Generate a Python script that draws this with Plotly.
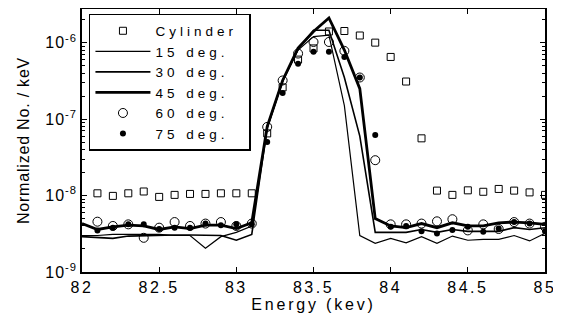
import plotly.graph_objects as go

# ---------------- data ----------------
energy_lines = [82.0, 82.1, 82.2, 82.3, 82.4, 82.5, 82.6, 82.7, 82.8, 82.9,
                83.0, 83.1, 83.2, 83.3, 83.4, 83.5, 83.6, 83.7, 83.8, 83.9,
                84.0, 84.1, 84.2, 84.3, 84.4, 84.5, 84.6, 84.7, 84.8, 84.9, 85.0]
energy_marks = energy_lines[1:]

deg15 = [3.0e-9, 3.0e-9, 3.1e-9, 3.1e-9, 3.1e-9, 3.1e-9, 3.0e-9, 3.0e-9, 2.05e-9, 2.9e-9,
         3.3e-9, 4.0e-9, 7.5e-8, 3.1e-7, 8.0e-7, 1.2e-6, 1.25e-6, 1.5e-7, 3.0e-9, 2.37e-9,
         2.75e-9, 2.4e-9, 2.9e-9, 2.37e-9, 2.95e-9, 2.6e-9, 2.67e-9, 2.67e-9, 3.0e-9, 2.55e-9, 3.2e-9]
deg30 = [2.9e-9, 2.85e-9, 2.75e-9, 2.95e-9, 3.0e-9, 3.0e-9, 3.05e-9, 3.05e-9, 3.0e-9, 3.0e-9,
         2.6e-9, 3.1e-9, 7.8e-8, 3.2e-7, 8.2e-7, 1.45e-6, 1.45e-6, 3.5e-7, 6.0e-8, 3.3e-9,
         3.3e-9, 3.3e-9, 3.6e-9, 3.3e-9, 3.6e-9, 3.4e-9, 3.4e-9, 3.4e-9, 3.8e-9, 3.6e-9, 3.8e-9]
deg45 = [4.3e-9, 3.6e-9, 3.9e-9, 4.1e-9, 4.0e-9, 3.6e-9, 3.9e-9, 3.7e-9, 4.1e-9, 4.1e-9,
         3.7e-9, 4.4e-9, 8.0e-8, 3.2e-7, 8.5e-7, 1.4e-6, 2.1e-6, 8.0e-7, 2.5e-7, 5.0e-9,
         4.0e-9, 3.8e-9, 4.3e-9, 3.8e-9, 4.4e-9, 4.0e-9, 4.0e-9, 4.4e-9, 4.5e-9, 4.4e-9, 4.2e-9]

cylinder = [1.07e-8, 9.9e-9, 1.07e-8, 1.13e-8, 9.6e-9, 1.02e-8, 1.05e-8, 1.05e-8, 1.07e-8, 1.07e-8,
            1.07e-8, 6.5e-8, 2.6e-7, 6.0e-7, 8.4e-7, 1.4e-6, 1.42e-6, 1.24e-6, 1.0e-6, 6.5e-7,
            3.1e-7, 5.6e-8, 1.16e-8, 1.02e-8, 1.17e-8, 1.12e-8, 1.22e-8, 1.16e-8, 1.10e-8, 1.02e-8]
deg60 = [4.55e-9, 4.0e-9, 4.2e-9, 2.8e-9, 3.8e-9, 4.5e-9, 4.0e-9, 4.3e-9, 4.5e-9, 4.0e-9,
         4.3e-9, 7.9e-8, 3.2e-7, 7.2e-7, 1.02e-6, 1.02e-6, 7.8e-7, 3.5e-7, 2.9e-8, 4.2e-9,
         4.2e-9, 4.3e-9, 4.6e-9, 4.9e-9, 3.5e-9, 4.2e-9, 3.65e-9, 4.5e-9, 4.3e-9, 3.9e-9]
deg75 = [3.5e-9, 3.8e-9, 4.2e-9, 4.2e-9, 3.65e-9, 3.8e-9, 3.8e-9, 4.3e-9, 4.1e-9, 4.2e-9,
         4.2e-9, 5.0e-8, 2.2e-7, 5.3e-7, 7.6e-7, 7.6e-7, 6.5e-7, 3.5e-7, 6.2e-8, 3.9e-9,
         4.0e-9, 3.4e-9, 3.2e-9, 3.55e-9, 3.9e-9, 3.37e-9, 3.7e-9, 4.5e-9, 4.3e-9, 3.4e-9]

x_tick_vals = [82, 82.5, 83, 83.5, 84, 84.5, 85]
x_tick_text = ["82", "82.5", "83", "83.5", "84", "84.5", "85"]
y_tick_vals = [1e-9, 1e-8, 1e-7, 1e-6]
y_tick_text = ["10<sup>-9</sup>", "10<sup>-8</sup>", "10<sup>-7</sup>", "10<sup>-6</sup>"]

FONT = "Liberation Sans, Arial, Helvetica, sans-serif"

fig = go.Figure()
fig.add_trace(go.Scatter(x=energy_marks, y=cylinder, mode="markers", name="Cylinder",
                         marker=dict(symbol="square-open", size=7, color="black",
                                     line=dict(width=1, color="black"))))
fig.add_trace(go.Scatter(x=energy_lines, y=deg15, mode="lines", name="15 deg.",
                         line=dict(color="black", width=1.2)))
fig.add_trace(go.Scatter(x=energy_lines, y=deg30, mode="lines", name="30 deg.",
                         line=dict(color="black", width=1.6)))
fig.add_trace(go.Scatter(x=energy_lines, y=deg45, mode="lines", name="45 deg.",
                         line=dict(color="black", width=2.8)))
fig.add_trace(go.Scatter(x=energy_marks, y=deg60, mode="markers", name="60 deg.",
                         marker=dict(symbol="circle-open", size=9, color="black",
                                     line=dict(width=1, color="black"))))
fig.add_trace(go.Scatter(x=energy_marks, y=deg75, mode="markers", name="75 deg.",
                         marker=dict(symbol="circle", size=6, color="black")))

axis_common = dict(showline=True, linecolor="black", linewidth=1.5, mirror="allticks",
                   ticks="inside", ticklen=5, tickwidth=1, tickcolor="black",
                   showgrid=False, zeroline=False, automargin=False,
                   tickfont=dict(family=FONT, size=16, color="black"))

fig.update_xaxes(range=[82, 85], tickvals=x_tick_vals, ticktext=x_tick_text,
                 title=dict(text="Energy (kev)", font=dict(family=FONT, size=16, color="black"),
                            standoff=0),
                 **axis_common)
fig.update_yaxes(type="log", range=[-9, -5.56], tickvals=y_tick_vals, ticktext=y_tick_text,
                 minor=dict(ticks="inside", ticklen=3, tickcolor="black", dtick="D1", showgrid=False),
                 title=dict(text="Normalized No. / keV", font=dict(family=FONT, size=16, color="black"),
                            standoff=16),
                 **axis_common)

# the page body adds an 8px offset, so the figure is 8px smaller and margins compensate
fig.update_layout(
    width=553, height=312,
    margin=dict(l=74, r=16, t=1, b=48),
    paper_bgcolor="white", plot_bgcolor="white",
    font=dict(family=FONT, color="black"),
    legend=dict(x=0.015, y=0.981, xanchor="left", yanchor="top",
                bgcolor="white", bordercolor="black", borderwidth=1.5,
                itemwidth=55,
                font=dict(family=FONT, size=13.5, color="black")),
)

# widen letter spacing of the texts to match the reference typography
post_js = """
var gd = document.getElementById('{plot_id}');
function spaceText(){
  try {
    var rules = [['.xtick text', '2.5px'], ['.ytick text', '1px'], ['.legendtext', '4px'],
                 ['.g-xtitle text', '2.8px'], ['.g-ytitle text', '0.8px']];
    rules.forEach(function(r){
      gd.querySelectorAll(r[0]).forEach(function(t){ t.style.letterSpacing = r[1]; });
    });
    var leg = gd.querySelector('.legend');
    if (leg) {
      var maxR = 0;
      leg.querySelectorAll('.legendtext').forEach(function(t){
        var b = t.getBBox(); maxR = Math.max(maxR, b.x + b.width);
      });
      var W = maxR + 14;
      var bg = leg.querySelector('rect.bg');
      if (bg) { bg.setAttribute('width', W); }
      var sb = leg.querySelector('.scrollbox');
      if (sb) {
        var cp = sb.getAttribute('clip-path');
        if (cp) {
          var id = cp.replace(/^url\\(['"]?#/, '').replace(/['"]?\\)$/, '');
          var cr = document.getElementById(id);
          if (cr) { cr.querySelectorAll('rect').forEach(function(r){ r.setAttribute('width', W); }); }
        }
      }
    }
  } catch(e) {}
}
spaceText();
gd.on('plotly_afterplot', spaceText);
"""

fig.write_html("out.html", post_script=post_js)
